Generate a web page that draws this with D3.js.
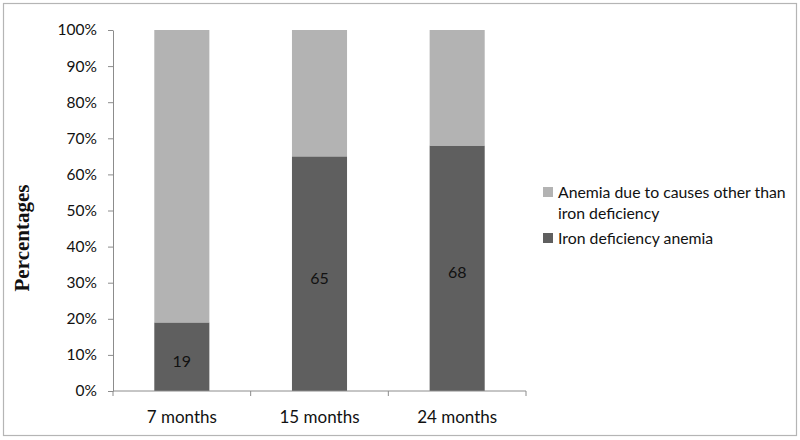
<!DOCTYPE html>
<html><head><meta charset="utf-8">
<script src="https://cdn.jsdelivr.net/npm/d3@7"></script>
<style>body{margin:0;background:#fff}svg{display:block}</style>
</head><body>
<svg id="c" width="800" height="440"></svg>
<script>
const categories = ["7 months", "15 months", "24 months"];
const ironDef = [19, 65, 68];
const otherCauses = [81, 35, 32];
const yTicks = [0, 10, 20, 30, 40, 50, 60, 70, 80, 90, 100];
const seriesNames = ["Anemia due to causes other than|iron deficiency", "Iron deficiency anemia"];
const seriesColors = ["#b3b3b3", "#5f5f5f"];

const svg = d3.select("#c");
const font = "Lato, 'Open Sans', sans-serif";
svg.append("rect").attr("x", 3.5).attr("y", 3.5).attr("width", 793).attr("height", 432)
  .attr("fill", "#fff").attr("stroke", "#b5b5b5").attr("stroke-width", 1.2);

const x = d3.scaleBand().domain(categories).range([113, 526]).paddingInner(0.6).paddingOuter(0.3);
const y = d3.scaleLinear().domain([0, 100]).range([391, 30]);

const g = svg.append("g");
categories.forEach((c, i) => {
  g.append("rect").attr("x", x(c)).attr("width", x.bandwidth())
    .attr("y", y(ironDef[i])).attr("height", y(0) - y(ironDef[i])).attr("fill", seriesColors[1]);
  g.append("rect").attr("x", x(c)).attr("width", x.bandwidth())
    .attr("y", y(ironDef[i] + otherCauses[i])).attr("height", y(ironDef[i]) - y(ironDef[i] + otherCauses[i]))
    .attr("fill", seriesColors[0]);
  g.append("text").attr("x", x(c) + x.bandwidth() / 2).attr("y", (y(0) + y(ironDef[i])) / 2 + 10)
    .attr("text-anchor", "middle").attr("font-family", font).attr("font-size", 16).attr("fill", "#111")
    .text(ironDef[i]);
});

const ya = svg.append("g").attr("transform", "translate(113,0)")
  .call(d3.axisLeft(y).tickValues(yTicks).tickFormat(d => d + "%").tickSize(5).tickSizeOuter(0));
ya.select(".domain").attr("stroke", "#8c8c8c");
ya.selectAll("line").attr("stroke", "#8c8c8c");
ya.selectAll("text").attr("font-family", font).attr("font-size", 15.5).attr("fill", "#111").attr("x", -16);

const xa = svg.append("g").attr("transform", "translate(0,391)");
xa.append("line").attr("x1", 113).attr("x2", 526).attr("stroke", "#8c8c8c");
const bounds = [113, 113 + 413 / 3, 113 + 2 * 413 / 3, 526];
bounds.forEach(b => xa.append("line").attr("x1", b).attr("x2", b).attr("y1", 0).attr("y2", 5).attr("stroke", "#8c8c8c"));
categories.forEach(c => {
  xa.append("text").attr("x", x(c) + x.bandwidth() / 2).attr("y", 32).attr("text-anchor", "middle")
    .attr("font-family", font).attr("font-size", 17).attr("fill", "#111").text(c);
});

svg.append("text").attr("transform", "translate(29,238) rotate(-90)").attr("text-anchor", "middle")
  .attr("font-family", "'Liberation Serif', 'DejaVu Serif', serif").attr("font-weight", "bold")
  .attr("font-size", 21).attr("fill", "#111").text("Percentages");

const lg = svg.append("g");
const legendRows = [{y: 187, idx: 0}, {y: 233, idx: 1}];
legendRows.forEach(r => {
  lg.append("rect").attr("x", 543).attr("y", r.y).attr("width", 10).attr("height", 10).attr("fill", seriesColors[r.idx]);
  const lines = seriesNames[r.idx].split("|");
  lines.forEach((l, j) => {
    lg.append("text").attr("x", 558).attr("y", r.y + 11 + j * 21).attr("font-family", font)
      .attr("font-size", 15.8).attr("fill", "#111").text(l);
  });
});
</script>
</body></html>
